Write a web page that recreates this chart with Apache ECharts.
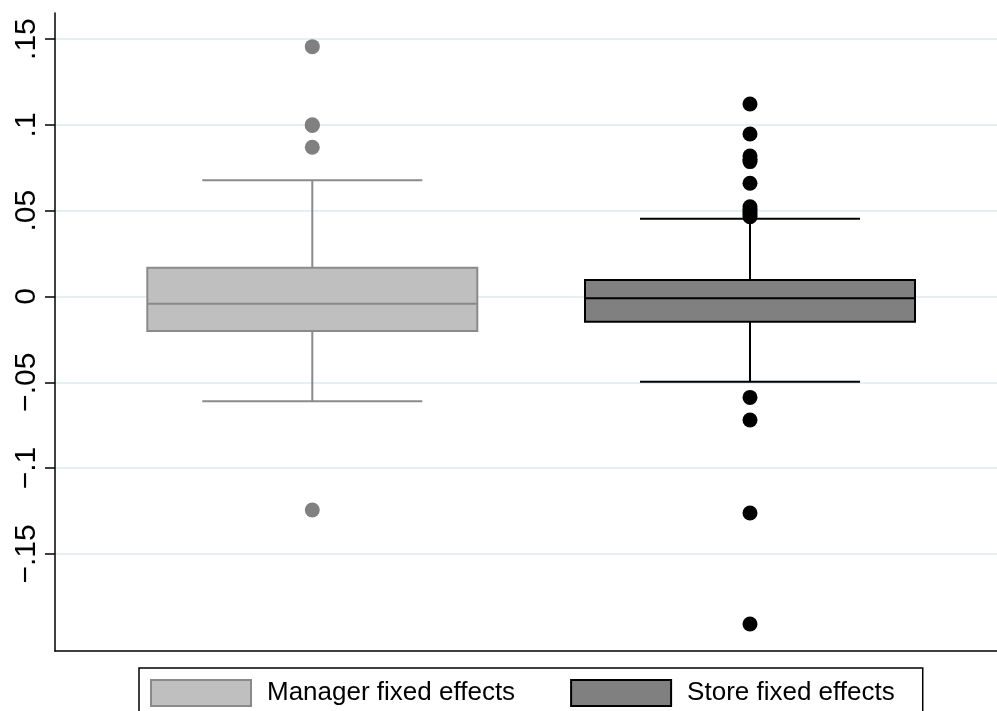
<!DOCTYPE html>
<html><head><meta charset="utf-8">
<script src="https://cdn.jsdelivr.net/npm/echarts@6/dist/echarts.min.js"></script>
<style>html,body{margin:0;padding:0;background:#fff}#c{width:997px;height:711px}</style>
</head><body><div id="c"></div>
<script>
const seriesNames = ['Manager fixed effects', 'Store fixed effects'];
const groupPositions = [1, 2];
// [lower whisker, Q1, median, Q3, upper whisker]
const managerBox = [-0.0611, -0.0201, -0.0042, 0.0168, 0.0677];
const storeBox = [-0.0497, -0.0147, -0.0010, 0.0096, 0.0453];
const managerOutliers = [0.1456, 0.1001, 0.0997, 0.0870, -0.1244];
const storeOutliers = [0.1122, 0.0947, 0.0818, 0.0800, 0.0786, 0.0660, 0.0523, 0.0508, 0.0494, 0.0478, 0.0465, -0.0588, -0.0720, -0.1262, -0.1909];
const tickValues = [-0.15, -0.1, -0.05, 0, 0.05, 0.1, 0.15];
const tickLabels = ['−.15', '−.1', '−.05', '0', '.05', '.1', '.15'];

const styles = [
  {fill: '#bfbfbf', line: '#8a8a8a', dot: '#808080'},
  {fill: '#808080', line: '#000000', dot: '#000000'}
];
const FONT = 'Liberation Sans';

function makeRender(st) {
  return function (params, api) {
    const x = api.value(0);
    const c = i => api.coord([x, api.value(i)]);
    const lo = c(1), q1 = c(2), md = c(3), q3 = c(4), hi = c(5);
    const hw = 165, cw = 110, cx = lo[0];
    const ls = {stroke: st.line, lineWidth: 2, fill: null};
    return {
      type: 'group',
      children: [
        {type: 'line', shape: {x1: cx, y1: hi[1], x2: cx, y2: q3[1]}, style: ls},
        {type: 'line', shape: {x1: cx, y1: q1[1], x2: cx, y2: lo[1]}, style: ls},
        {type: 'line', shape: {x1: cx - cw, y1: hi[1], x2: cx + cw, y2: hi[1]}, style: ls},
        {type: 'line', shape: {x1: cx - cw, y1: lo[1], x2: cx + cw, y2: lo[1]}, style: ls},
        {type: 'rect', shape: {x: cx - hw, y: q3[1], width: 2 * hw, height: q1[1] - q3[1]},
          style: {fill: st.fill, stroke: st.line, lineWidth: 2}},
        {type: 'line', shape: {x1: cx - hw, y1: md[1], x2: cx + hw, y2: md[1]}, style: ls}
      ]
    };
  };
}

const boxes = [managerBox, storeBox];
const outliers = [managerOutliers, storeOutliers];
const series = [];
seriesNames.forEach((name, i) => {
  series.push({
    name: name,
    type: 'custom',
    renderItem: makeRender(styles[i]),
    encode: {x: 0, y: [1, 2, 3, 4, 5]},
    data: [[groupPositions[i]].concat(boxes[i])],
    itemStyle: {color: styles[i].fill, borderColor: styles[i].line},
    z: 2
  });
  series.push({
    name: name,
    type: 'scatter',
    symbol: 'circle',
    symbolSize: 15,
    itemStyle: {color: styles[i].dot, opacity: 1},
    data: outliers[i].map(v => [groupPositions[i], v]),
    z: 3
  });
});

const chart = echarts.init(document.getElementById('c'), null, {renderer: 'canvas'});
chart.setOption({
  animation: false,
  backgroundColor: '#ffffff',
  textStyle: {fontFamily: FONT},
  grid: {left: 55, right: 0, top: 13, bottom: 60, containLabel: false},
  xAxis: {
    type: 'value', min: 0.4122, max: 2.5643,
    axisLine: {show: true, onZero: false, lineStyle: {color: '#000', width: 1.5}},
    axisTick: {show: false}, axisLabel: {show: false}, splitLine: {show: false}
  },
  yAxis: {
    type: 'value', min: -0.2066, max: 0.1652,
    axisLine: {show: true, onZero: false, lineStyle: {color: '#000', width: 1.5}},
    axisTick: {show: true, customValues: tickValues, length: 10, lineStyle: {color: '#000', width: 1.5}},
    axisLabel: {
      show: true, customValues: tickValues, rotate: 90, margin: 13,
      fontSize: 30, color: '#000', fontFamily: FONT,
      formatter: v => {
        const k = tickValues.findIndex(t => Math.abs(t - v) < 1e-9);
        return k >= 0 ? tickLabels[k] : '';
      }
    },
    splitLine: {show: true, lineStyle: {color: '#e6eff1', width: 2}}
  },
  legend: {
    show: true, left: 139, top: 668, orient: 'horizontal',
    borderColor: '#000', borderWidth: 1.5, borderRadius: 0,
    padding: [11, 28, 11, 11],
    itemWidth: 100, itemHeight: 26, itemGap: 55,
    selectedMode: false,
    textStyle: {fontSize: 26, color: '#000', fontFamily: FONT, padding: [0, 0, 0, 11]},
    data: seriesNames.map((n, i) => ({
      name: n, icon: 'rect',
      itemStyle: {color: styles[i].fill, borderColor: styles[i].line, borderWidth: 2}
    }))
  },
  series: series
});
</script></body></html>
